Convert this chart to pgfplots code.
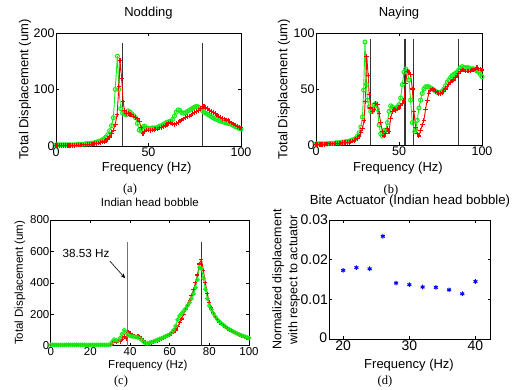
\documentclass[border=0pt]{standalone}
\usepackage{pgfplots}
\pgfplotsset{compat=1.18}
\usepackage{fontspec}
\setmainfont{Liberation Sans}
\newfontfamily\seriffont{Liberation Serif}
\usetikzlibrary{arrows.meta}
\definecolor{mgreen}{RGB}{20,235,20}
\definecolor{mred}{RGB}{255,0,0}
\definecolor{mblue}{RGB}{0,0,255}
\pgfplotsset{
  mat/.style={scale only axis, anchor=south west,
    axis line style={black, line width=0.6pt},
    tick align=inside, major tick length=3pt,
    tick style={black, line width=0.5pt},
    /pgf/number format/assume math mode=true,
    ticklabel style={inner sep=1.2pt},
    xlabel style={anchor=center}, ylabel style={anchor=center},
    title style={anchor=center}},
  gline/.style={mgreen, line width=0.9pt, mark=o, mark size=2pt, mark options={solid, line width=1pt}},
  rline/.style={mred, line width=0.9pt, mark=+, mark size=2.3pt, mark options={solid, line width=1.1pt}},
  vline/.style={black!80, line width=0.75pt, forget plot}
}
\begin{document}
\begin{tikzpicture}
\useasboundingbox (0pt,0pt) rectangle (522pt,389pt);
% (a)
\begin{axis}[mat, at={(56pt,243pt)}, width=185pt, height=113pt,
  xmin=0, xmax=100, ymin=0, ymax=200, xtick={0,50,100}, ytick={0,100,200},
  ticklabel style={font=\fontsize{12.5}{14}\selectfont},
  label style={font=\fontsize{13}{15}\selectfont},
  title style={font=\fontsize{13}{15}\selectfont, at={(axis description cs:0.5,1.124)}},
  xlabel style={at={(axis description cs:0.49,-0.195)}},
  ylabel style={at={(axis description cs:-0.168,0.5)}},
  title={Nodding}, xlabel={Frequency (Hz)}, ylabel={Total Displacement (um)}]
\addplot[vline] coordinates {(35.7,0) (35.7,182)};
\addplot[vline] coordinates {(79.3,0) (79.3,182)};
\addplot[gline] coordinates {(0,2)(1,2)(2,2)(3,2)(4,2)(5,2)(6,2)(7,2)(8,2)(9,2)(10,2)(11,2)(12,3)(13,3)(14,3)(15,3)(16,4)(17,4)(18,4)(19,5)(20,5)(21,6)(22,7)(23,8)(24,9)(25,11)(26,13)(27,16)(28,20)(29,27)(30,36)(31,50)(32,100)(33.2,159)(34,100)(35,66)(36,58)(37,57)(38,55)(39,62)(40,60)(41,57)(42,54)(43,50)(44,40)(45,28)(46,27)(47,34)(48,35)(49,32)(50,31)(51,31)(52,32)(53,32)(54,32)(55,33)(56,35)(57,36)(58,38)(59,40)(60,42)(61,43)(62,44)(63,47)(64,53)(65,60)(66,64)(67,63)(68,59)(69,58)(70,59)(71,61)(72,63)(73,65)(74,67)(75,69)(76,70)(77,69)(78,66)(79,63)(80,60)(81,58)(82,56)(83,54)(84,52)(85,50)(86,48)(87,47)(88,45)(89,44)(90,43)(91,42)(92,41)(93,40)(94,39)(95,38)(96,36)(97,34)(98,33)(99,31)(100,30)};
\addplot[rline] coordinates {(0,1)(1,1)(2,1)(3,1)(4,1)(5,1)(6,1)(7,1)(8,1)(9,1)(10,1)(11,1.5)(12,1.5)(13,1.5)(14,2)(15,2)(16,2)(17,2.5)(18,3)(19,3)(20,3.5)(21,4)(22,4.5)(23,5)(24,6)(25,7)(26,8)(27,10)(28,12)(29,16)(30,22)(31,28)(32,38)(33,55)(34,105)(34.6,151)(35.5,120)(36.3,78)(37,63)(38,58)(39,57)(40,56)(41,55)(42,53)(43,50)(44,48)(45,44)(46,32)(47,22)(48,26)(49,28)(50,28)(51,27)(52,28)(53,29)(54,30)(55,30)(56,32)(57,33)(58,34)(59,36)(60,38)(61,40)(62,41)(63,39)(64,38)(65,40)(66,42)(67,44)(68,46)(69,48)(70,50)(71,52)(72,53)(73,55)(74,57)(75,59)(76,61)(77,63)(78,67)(79,70)(80,70)(81,68)(82,66)(83,63)(84,61)(85,59)(86,57)(87,55)(88,53)(89,51)(90,49)(91,48)(92,46)(93,45)(94,43)(95,41)(96,39)(97,37)(98,35)(99,33)(100,32)};
\end{axis}
% (b)
\begin{axis}[mat, at={(316pt,244pt)}, width=166pt, height=112pt,
  xmin=0, xmax=100, ymin=0, ymax=100, xtick={0,50,100}, ytick={0,50,100},
  ticklabel style={font=\fontsize{12.5}{14}\selectfont},
  label style={font=\fontsize{13}{15}\selectfont},
  title style={font=\fontsize{13}{15}\selectfont, at={(axis description cs:0.5,1.125)}},
  xlabel style={at={(axis description cs:0.494,-0.205)}},
  ylabel style={at={(axis description cs:-0.193,0.5)}},
  title={Naying}, xlabel={Frequency (Hz)}, ylabel={Total Displacement (um)}]
\addplot[vline] coordinates {(32.7,0) (32.7,95)};
\addplot[vline] coordinates {(53.4,0) (53.4,95)};
\addplot[vline] coordinates {(53.9,0) (53.9,95)};
\addplot[vline] coordinates {(58.6,0) (58.6,95)};
\addplot[vline] coordinates {(86,0) (86,95)};
\addplot[gline] coordinates {(0,1)(1,1)(2,1)(3,1)(4,1)(5,1)(6,1)(7,1)(8,1.5)(9,1.5)(10,1.5)(11,1.5)(12,2)(13,2)(14,2)(15,2)(16,2.5)(17,2.5)(18,3)(19,3)(20,3.5)(21,4)(22,4.5)(23,5)(24,6)(25,8)(26,11)(27,16)(28,25)(28.7,49)(29.5,92)(30.4,54)(31,40)(32,34)(33,30)(34,30)(35,36)(36,37)(37,32)(38,18)(39,10)(40,8)(41,13)(42,13)(43,20)(44,30)(45,35)(46,34)(47,32)(48,33)(49,34)(50,36)(51,42)(52,54)(53,65)(54,68)(55,66)(56,58)(57,40)(58,20)(59.5,12)(60,14)(61,22)(62,33)(63,40)(64,46)(65,50)(66,52)(67,52)(68,52)(69,51)(70,50)(71,49)(72,48)(73,47)(74,47)(75,47)(76,48)(77,50)(78,53)(79,56)(80,58)(81,60)(82,62)(83,63)(84,64)(85,65)(86,67)(87,69)(88,70)(89,69)(90,69)(91,69)(92,69)(93,68)(94,68)(95,68)(96,67)(97,66)(98,65)(99,63)(100,61)};
\addplot[rline] coordinates {(0,0.5)(1,0.5)(2,0.5)(3,0.5)(4,0.5)(5,0.5)(6,1)(7,1)(8,1)(9,1)(10,1)(11,1)(12,1.5)(13,1.5)(14,1.5)(15,1.5)(16,2)(17,2)(18,2)(19,2.5)(20,2.5)(21,3)(22,3.5)(23,4)(24,5)(25,6)(26,8)(27,11)(28,15)(29,22)(29.6,39)(30.6,79)(31.4,62)(32,45)(33,33)(34,30)(35,32)(36,37)(37,36)(38,28)(39,20)(40,12)(41,8)(42,10)(43,15)(44,12)(45,24)(46,30)(47,32)(48,31)(49,32)(50,33)(51,35)(52,37)(53,40)(54,55)(55,66)(56,65)(57,63)(58,50)(59,30)(60,16)(61,10)(62,8)(63,13)(64,18)(65,22)(66,32)(67,40)(68,46)(69,49)(70,50)(71,49)(72,48)(73,47)(74,46)(75,46)(76,47)(77,48)(78,50)(79,52)(80,54)(81,56)(82,57)(83,58)(84,60)(85,62)(86,64)(87,66)(88,67)(89,67)(90,66)(91,66)(92,66)(93,66)(94,67)(95,67)(96,68)(97,69)(98,68)(99,68)(100,67)};
\end{axis}
% (c)
\begin{axis}[mat, at={(50.7pt,43.3pt)}, width=198.3pt, height=125.7pt,
  xmin=0, xmax=100, ymin=0, ymax=800, xtick={0,20,40,60,80,100}, ytick={0,200,400,600,800},
  ticklabel style={font=\fontsize{11.5}{13}\selectfont},
  label style={font=\fontsize{11.5}{13}\selectfont},
  title style={font=\fontsize{11.5}{13}\selectfont, at={(axis description cs:0.5,1.095)}},
  xlabel style={at={(axis description cs:0.49,-0.154)}},
  ylabel style={at={(axis description cs:-0.155,0.5)}},
  title={Indian head bobble}, xlabel={Frequency (Hz)}, ylabel={Total Displacement (um)}]
\addplot[vline, black!55] coordinates {(38.53,0) (38.53,658)};
\addplot[vline] coordinates {(75.9,0) (75.9,658)};
\addplot[rline, mark size=2pt] coordinates {(0,2)(1,2)(2,2)(3,2)(4,2)(5,2)(6,2)(7,2)(8,2)(9,2)(10,2)(11,2)(12,2)(13,2)(14,2)(15,2)(16,2)(17,2)(18,2)(19,2)(20,2)(21,2)(22,2)(23,2)(24,2)(25,2)(26,2)(27,2)(28,2)(29,2)(30,2)(31,8)(32,28)(33,22)(34,30)(35,25)(36,40)(37,60)(38,45)(39,85)(40,78)(41,70)(42,62)(43,58)(44,60)(45,58)(46,48)(47,30)(48,15)(49,12)(50,14)(51,18)(52,22)(53,27)(54,32)(55,38)(56,44)(57,50)(58,56)(59,62)(60,68)(61,75)(62,85)(63,100)(64,120)(65,145)(66,170)(67,200)(68,230)(69,260)(70,290)(71,320)(72,355)(73,400)(74,450)(75,520)(76,550)(77,480)(78,400)(79,330)(80,275)(81,240)(82,210)(83,185)(84,165)(85,150)(86,137)(87,126)(88,116)(89,107)(90,99)(91,92)(92,85)(93,79)(94,73)(95,68)(96,63)(97,59)(98,55)(99,52)(100,50)};
\addplot[gline, mark size=1.8pt] coordinates {(0,5)(1,5)(2,5)(3,5)(4,5)(5,5)(6,5)(7,5)(8,5)(9,5)(10,5)(11,5)(12,5)(13,5)(14,5)(15,5)(16,5)(17,5)(18,5)(19,5)(20,5)(21,5)(22,5)(23,5)(24,5)(25,5)(26,5)(27,5)(28,5)(29,5)(30,8)(31,25)(32,40)(33,35)(34,32)(35,50)(36,75)(37,100)(38,85)(39,68)(40,62)(41,60)(42,58)(43,56)(44,52)(45,45)(46,35)(47,22)(48,14)(49,16)(50,20)(51,24)(52,28)(53,33)(54,38)(55,43)(56,48)(57,54)(58,60)(59,65)(60,72)(61,85)(62,100)(63,125)(64,165)(65,190)(66,205)(67,220)(68,235)(69,255)(70,275)(71,300)(72,330)(73,370)(74,420)(75,500)(76,490)(77,430)(78,360)(79,300)(80,255)(81,230)(82,205)(83,185)(84,168)(85,155)(86,142)(87,132)(88,122)(89,113)(90,105)(91,98)(92,90)(93,84)(94,78)(95,72)(96,67)(97,62)(98,57)(99,53)(100,50)};
\node[font=\fontsize{11.7}{13}\selectfont, anchor=center] at (axis cs:17.8,590) {38.53 Hz};
\draw[black, line width=0.6pt, -{Stealth[length=5pt,width=4pt]}] (axis cs:29.8,539) -- (axis cs:37.6,429);
\end{axis}
% (d)
\begin{axis}[mat, at={(329.3pt,50pt)}, width=161.4pt, height=119pt,
  xmin=17.9, xmax=42.3, ymin=0, ymax=0.03, xtick={20,30,40}, ytick={0.01,0.02,0.03},
  scaled y ticks=false,
  yticklabel style={/pgf/number format/fixed, /pgf/number format/precision=2},
  ticklabel style={font=\fontsize{14}{16}\selectfont},
  xlabel style={font=\fontsize{13}{15}\selectfont, at={(axis description cs:0.494,-0.218)}},
  ylabel style={font=\fontsize{12.5}{16}\selectfont, align=center, at={(axis description cs:-0.268,0.5)}},
  title style={font=\fontsize{13.2}{15}\selectfont, at={(axis description cs:0.5,1.109)}},
  title={Bite Actuator (Indian head bobble)}, xlabel={Frequency (Hz)},
  ylabel={Normalized displacement\\with respect to actuator}]
\addplot[only marks, mblue, mark=asterisk, mark size=2.3pt, mark options={line width=1pt}] coordinates {(20,0.0173)(22,0.0180)(24,0.0177)(26,0.0259)(28,0.0141)(30,0.0137)(32,0.0131)(34,0.0130)(36,0.0124)(38,0.0114)(40,0.0145)};
\end{axis}
\node[anchor=east, inner sep=1.2pt, text=black, font=\fontsize{14}{16}\selectfont] at (328.5pt,51pt) {0};
\node[font=\seriffont\fontsize{12.5}{14}\selectfont] at (130pt,200pt) {(a)};
\node[font=\seriffont\fontsize{12.5}{14}\selectfont] at (391pt,199pt) {(b)};
\node[font=\seriffont\fontsize{12.5}{14}\selectfont] at (121pt,7.5pt) {(c)};
\node[font=\seriffont\fontsize{12.5}{14}\selectfont] at (385pt,7.5pt) {(d)};
\end{tikzpicture}
\end{document}
